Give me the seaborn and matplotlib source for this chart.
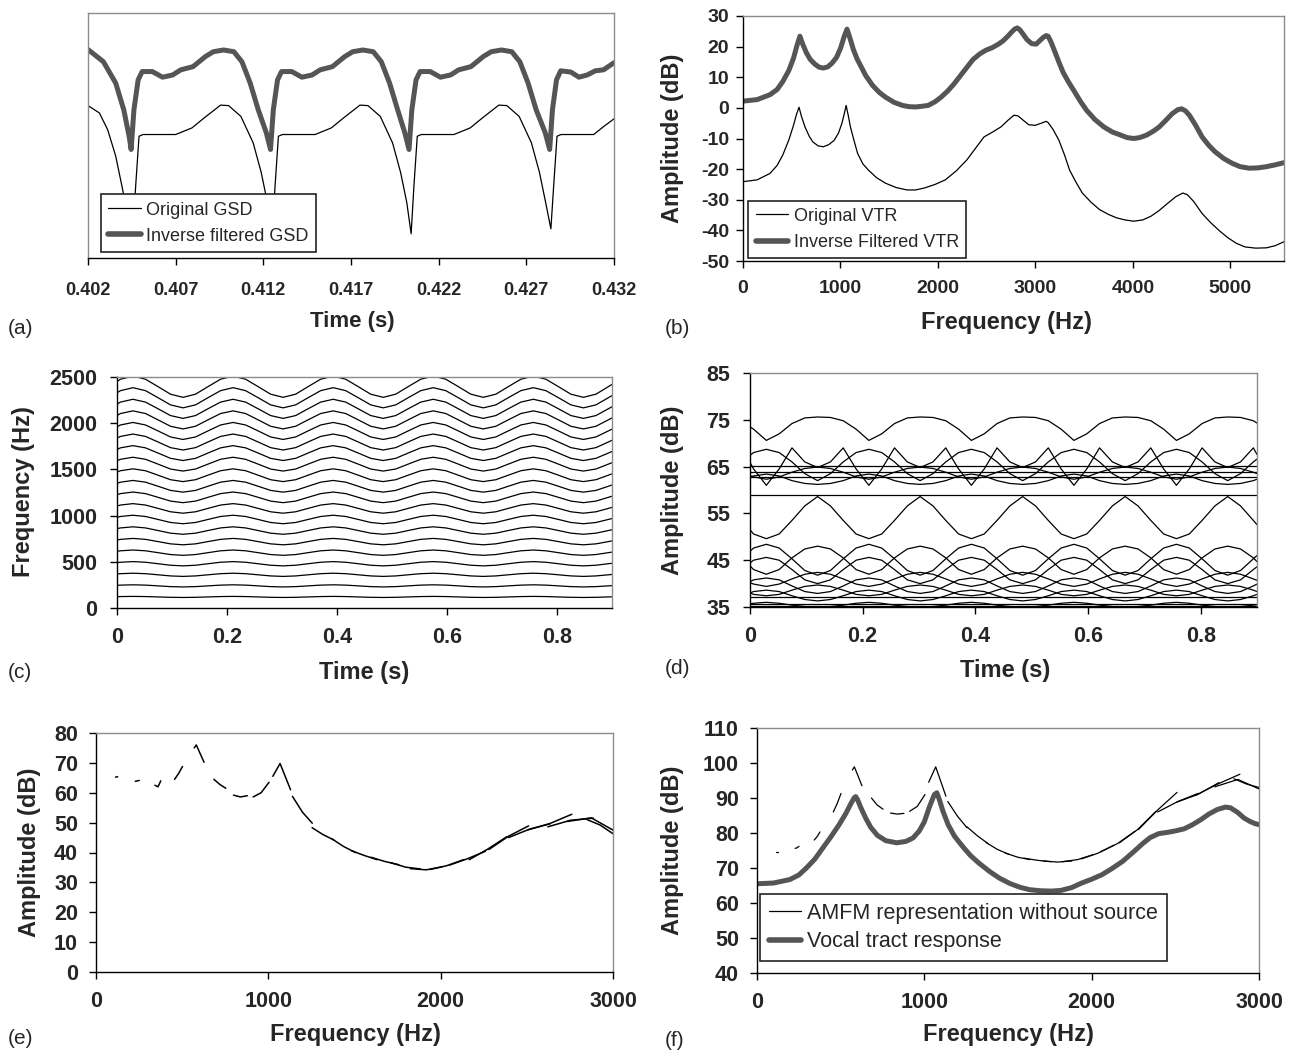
import matplotlib
matplotlib.use("Agg")
import matplotlib.pyplot as plt
from matplotlib.lines import Line2D
import pandas as pd
import seaborn as sns

sns.set_style("white")
plt.rcParams["font.family"] = ["Liberation Sans", "DejaVu Sans"]
plt.rcParams["axes.unicode_minus"] = False

THICK = "#555555"
FRAME = "#8c8c8c"

# ---------------- (a) glottal source derivative (arbitrary units, 0-100)
gsd_orig_t = [0.40200, 0.40265, 0.40312, 0.40358, 0.40393, 0.40425, 0.40456,
              0.40472, 0.40491, 0.40514, 0.40700, 0.40793, 0.40863, 0.40956, 0.41002, 0.41072, 0.41142, 0.41188, 0.41223, 0.41251,
              0.41267, 0.41286, 0.41309, 0.41495, 0.41588, 0.41658, 0.41751, 0.41797, 0.41867, 0.41937, 0.41983, 0.42018, 0.42043,
              0.42059, 0.42078, 0.42101, 0.42287, 0.42380, 0.42450, 0.42543, 0.42589, 0.42659, 0.42729, 0.42775, 0.42810, 0.42840,
              0.42856, 0.42875, 0.42898, 0.43084, 0.43140, 0.43200]
gsd_orig = [62.2, 59.2, 52.4, 41.6, 29.5, 18.0, 10.0,
            29.5, 49.7, 50.4, 50.4, 53.1, 57.2, 62.4, 62.2, 57.8, 47.0, 34.9, 22.7, 10.0,
            29.5, 49.7, 50.4, 50.4, 53.1, 57.2, 62.4, 62.2, 57.8, 47.0, 34.9, 22.7, 9.9,
            29.5, 49.7, 50.4, 50.4, 53.1, 57.2, 62.4, 62.2, 57.8, 47.0, 34.9, 22.7, 11.9,
            29.5, 49.7, 50.4, 50.4, 53.6, 56.8]
gsd_inv_t = [0.40200, 0.40288, 0.40358, 0.40404, 0.40435, 0.40446,
             0.40462, 0.40486, 0.40509, 0.40567, 0.40625, 0.40683, 0.40729, 0.40799, 0.40869, 0.40915, 0.40973,
             0.41032, 0.41078, 0.41125, 0.41171, 0.41217, 0.41241,
             0.41257, 0.41281, 0.41304, 0.41362, 0.41420, 0.41478, 0.41524, 0.41594, 0.41664, 0.41710, 0.41768,
             0.41827, 0.41873, 0.41920, 0.41966, 0.42007, 0.42031,
             0.42047, 0.42071, 0.42094, 0.42152, 0.42210, 0.42268, 0.42314, 0.42384, 0.42454, 0.42500, 0.42558,
             0.42617, 0.42663, 0.42710, 0.42756, 0.42808, 0.42833,
             0.42849, 0.42872, 0.42896, 0.42954, 0.43000, 0.43047, 0.43093, 0.43140, 0.43200]
gsd_inv = [85.1, 80.1, 71.4, 60.5, 49.5, 44.3,
           60.5, 72.7, 76.1, 76.1, 73.8, 74.7, 76.8, 78.1, 82.2, 84.2, 84.9, 84.2, 80.1, 71.4, 60.5, 51.1, 44.3,
           60.5, 72.7, 76.1, 76.1, 73.8, 74.7, 76.8, 78.1, 82.2, 84.2, 84.9, 84.2, 80.1, 71.4, 60.5, 51.1, 44.3,
           60.5, 72.7, 76.1, 76.1, 73.8, 74.7, 76.8, 78.1, 82.2, 84.2, 84.9, 84.2, 80.1, 71.4, 60.5, 51.1, 44.3,
           60.5, 72.7, 76.4, 75.9, 73.8, 74.7, 76.4, 76.8, 79.7]
a_ticks = [0.402, 0.407, 0.412, 0.417, 0.422, 0.427, 0.432]
a_tick_labels = ["0.402", "0.407", "0.412", "0.417", "0.422", "0.427", "0.432"]

# ---------------- (b) vocal tract responses
vtr_orig_f = [0, 145, 277, 350, 408, 470, 518, 550, 575, 600, 637, 680, 716, 770, 825, 880, 935, 980, 1014,
              1040, 1058, 1080, 1102, 1140, 1176, 1230, 1286, 1370, 1462, 1570, 1681, 1770, 1857, 1970, 2076,
              2190, 2296, 2390, 2472, 2560, 2647, 2720, 2779, 2820, 2866, 2930, 2998, 3060, 3110, 3130, 3180,
              3240, 3300, 3350, 3420, 3481, 3570, 3657, 3750, 3832, 3920, 4008, 4100, 4184, 4270, 4359, 4440,
              4513, 4560, 4622, 4710, 4798, 4890, 4974, 5060, 5149, 5260, 5369, 5460, 5550]
vtr_orig = [-24.1, -23.5, -21.4, -18.8, -15.4, -10.5, -5.7, -2.0, 0.2, -2.8, -6.3, -9.3, -11.1, -12.4, -12.7,
            -12.0, -10.6, -8.2, -5.1, -1.8, 0.8, -2.5, -6.2, -10.8, -14.9, -18.3, -20.3, -22.8, -24.6, -26.0,
            -26.8, -26.8, -26.2, -25.0, -23.5, -20.5, -17.0, -13.0, -9.5, -7.9, -6.2, -4.0, -2.4, -2.6, -3.8,
            -5.5, -5.7, -5.0, -4.4, -4.8, -7.0, -10.5, -15.5, -20.3, -24.5, -27.8, -30.8, -33.2, -34.8, -35.9,
            -36.6, -37.0, -36.6, -35.4, -33.5, -31.1, -29.0, -27.8, -28.4, -30.5, -34.5, -37.5, -40.2, -42.4,
            -44.2, -45.4, -45.8, -45.7, -45.0, -43.7]
vtr_inv_f = [0, 145, 277, 350, 408, 470, 518, 555, 584, 610, 650, 690, 737, 780, 825, 870, 913, 960, 1001,
             1040, 1067, 1095, 1133, 1170, 1198, 1260, 1330, 1400, 1462, 1550, 1637, 1700, 1769, 1830, 1900,
             1970, 2032, 2100, 2164, 2230, 2296, 2360, 2428, 2490, 2559, 2620, 2669, 2720, 2757, 2790, 2814,
             2840, 2875, 2910, 2960, 3007, 3040, 3080, 3110, 3130, 3160, 3196, 3240, 3284, 3340, 3393, 3460,
             3525, 3610, 3701, 3790, 3876, 3940, 4008, 4070, 4140, 4210, 4271, 4340, 4403, 4460, 4500, 4540,
             4579, 4640, 4710, 4780, 4842, 4930, 5018, 5100, 5193, 5280, 5369, 5460, 5550]
vtr_inv = [2.2, 2.7, 4.3, 6.0, 8.6, 12.2, 16.2, 20.5, 23.4, 21.0, 18.0, 15.8, 14.3, 13.3, 13.0, 13.4, 14.6,
           16.5, 19.5, 23.5, 25.7, 23.0, 19.0, 16.0, 14.3, 10.5, 7.3, 5.0, 3.5, 1.8, 0.8, 0.4, 0.3, 0.5, 0.8,
           2.0, 3.5, 5.5, 7.8, 10.5, 13.2, 15.8, 17.6, 18.8, 19.7, 20.8, 21.9, 23.5, 24.8, 25.8, 26.1, 25.5,
           24.0, 22.4, 21.0, 20.8, 21.8, 23.0, 23.6, 23.4, 21.5, 18.6, 15.0, 11.6, 8.4, 5.7, 2.2, -0.8, -3.8,
           -6.2, -7.9, -8.9, -9.7, -10.0, -9.7, -8.9, -7.6, -6.2, -4.0, -1.9, -0.6, -0.3, -1.0, -2.4, -5.5,
           -9.5, -12.3, -14.3, -16.5, -18.1, -19.2, -19.7, -19.6, -19.2, -18.6, -17.9]

# ---------------- (c)/(d) harmonic tracks over time
track_t = [0.0, 0.0063, 0.029, 0.0518, 0.0745, 0.0973, 0.12, 0.1428, 0.1655, 0.1883,
           0.211, 0.2338, 0.2565, 0.2793, 0.302, 0.3248, 0.3475, 0.3703, 0.393, 0.4158,
           0.4385, 0.4613, 0.484, 0.5068, 0.5295, 0.5523, 0.575, 0.5978, 0.6205, 0.6433,
           0.666, 0.6888, 0.7115, 0.7343, 0.757, 0.7798, 0.8025, 0.8253, 0.848, 0.8708,
           0.8935, 0.9]
# fundamental; harmonic k sits at k times it (k=8 peaks at 1000 Hz)
f0_track = [122.6, 123.8,
            125.5, 123.8, 119.8, 115.7, 114.0, 115.7, 119.8, 123.8,
            125.5, 123.8, 119.8, 115.7, 114.0, 115.7, 119.8, 123.8,
            125.5, 123.8, 119.8, 115.7, 114.0, 115.7, 119.8, 123.8,
            125.5, 123.8, 119.8, 115.7, 114.0, 115.7, 119.8, 123.8,
            125.5, 123.8, 119.8, 115.7, 114.0, 115.7, 119.8, 121.0]
harmonics = list(range(1, 21))

amp_top = [73.5, 73.0,
           70.6, 72.0, 74.2, 75.4, 75.6, 75.5, 74.8, 73.0, 70.6, 72.0, 74.2, 75.4, 75.6, 75.5, 74.8, 73.0,
           70.6, 72.0, 74.2, 75.4, 75.6, 75.5, 74.8, 73.0, 70.6, 72.0, 74.2, 75.4, 75.6, 75.5, 74.8, 73.0,
           70.6, 72.0, 74.2, 75.4, 75.6, 75.5, 74.8, 74.3]
amp_double = [65.9, 64.5,
              61.0, 64.5, 69.0, 66.0, 64.8, 66.0, 69.0, 64.5, 61.0, 64.5, 69.0, 66.0, 64.8, 66.0, 69.0, 64.5,
              61.0, 64.5, 69.0, 66.0, 64.8, 66.0, 69.0, 64.5, 61.0, 64.5, 69.0, 66.0, 64.8, 66.0, 69.0, 64.5,
              61.0, 64.5, 69.0, 66.0, 64.8, 66.0, 69.0, 67.6]
amp_dome = [67.4, 68.0,
            68.7, 68.0, 66.0, 63.5, 62.0, 63.5, 66.0, 68.0, 68.7, 68.0, 66.0, 63.5, 62.0, 63.5, 66.0, 68.0,
            68.7, 68.0, 66.0, 63.5, 62.0, 63.5, 66.0, 68.0, 68.7, 68.0, 66.0, 63.5, 62.0, 63.5, 66.0, 68.0,
            68.7, 68.0, 66.0, 63.5, 62.0, 63.5, 66.0, 66.6]
amp_arc = [51.5, 50.6,
           49.6, 50.6, 53.5, 56.6, 58.6, 56.6, 53.5, 50.6, 49.6, 50.6, 53.5, 56.6, 58.6, 56.6, 53.5, 50.6,
           49.6, 50.6, 53.5, 56.6, 58.6, 56.6, 53.5, 50.6, 49.6, 50.6, 53.5, 56.6, 58.6, 56.6, 53.5, 50.6,
           49.6, 50.6, 53.5, 56.6, 58.6, 56.6, 53.5, 52.6]
amp_mid1 = [63.1, 62.8,
            62.3, 62.8, 63.8, 64.6, 64.9, 64.6, 63.8, 62.8, 62.3, 62.8, 63.8, 64.6, 64.9, 64.6, 63.8, 62.8,
            62.3, 62.8, 63.8, 64.6, 64.9, 64.6, 63.8, 62.8, 62.3, 62.8, 63.8, 64.6, 64.9, 64.6, 63.8, 62.8,
            62.3, 62.8, 63.8, 64.6, 64.9, 64.6, 63.8, 63.5]
amp_mid2 = [62.7, 63.0,
            63.4, 63.0, 62.0, 61.4, 61.2, 61.4, 62.0, 63.0, 63.4, 63.0, 62.0, 61.4, 61.2, 61.4, 62.0, 63.0,
            63.4, 63.0, 62.0, 61.4, 61.2, 61.4, 62.0, 63.0, 63.4, 63.0, 62.0, 61.4, 61.2, 61.4, 62.0, 63.0,
            63.4, 63.0, 62.0, 61.4, 61.2, 61.4, 62.0, 62.3]
amp_low1 = [46.9, 47.6,
            48.4, 47.6, 45.3, 42.8, 41.8, 42.8, 45.3, 47.6, 48.4, 47.6, 45.3, 42.8, 41.8, 42.8, 45.3, 47.6,
            48.4, 47.6, 45.3, 42.8, 41.8, 42.8, 45.3, 47.6, 48.4, 47.6, 45.3, 42.8, 41.8, 42.8, 45.3, 47.6,
            48.4, 47.6, 45.3, 42.8, 41.8, 42.8, 45.3, 46.0]
amp_low2 = [43.8, 43.0,
            42.0, 43.0, 45.5, 47.4, 48.0, 47.4, 45.5, 43.0, 42.0, 43.0, 45.5, 47.4, 48.0, 47.4, 45.5, 43.0,
            42.0, 43.0, 45.5, 47.4, 48.0, 47.4, 45.5, 43.0, 42.0, 43.0, 45.5, 47.4, 48.0, 47.4, 45.5, 43.0,
            42.0, 43.0, 45.5, 47.4, 48.0, 47.4, 45.5, 44.7]
amp_low3 = [44.4, 45.0,
            45.6, 45.0, 43.0, 40.8, 40.0, 40.8, 43.0, 45.0, 45.6, 45.0, 43.0, 40.8, 40.0, 40.8, 43.0, 45.0,
            45.6, 45.0, 43.0, 40.8, 40.0, 40.8, 43.0, 45.0, 45.6, 45.0, 43.0, 40.8, 40.0, 40.8, 43.0, 45.0,
            45.6, 45.0, 43.0, 40.8, 40.0, 40.8, 43.0, 43.6]
amp_low4 = [40.2, 39.9,
            39.4, 39.9, 41.0, 42.0, 42.4, 42.0, 41.0, 39.9, 39.4, 39.9, 41.0, 42.0, 42.4, 42.0, 41.0, 39.9,
            39.4, 39.9, 41.0, 42.0, 42.4, 42.0, 41.0, 39.9, 39.4, 39.9, 41.0, 42.0, 42.4, 42.0, 41.0, 39.9,
            39.4, 39.9, 41.0, 42.0, 42.4, 42.0, 41.0, 40.7]
amp_low5 = [40.4, 40.8,
            41.2, 40.8, 39.5, 38.3, 37.9, 38.3, 39.5, 40.8, 41.2, 40.8, 39.5, 38.3, 37.9, 38.3, 39.5, 40.8,
            41.2, 40.8, 39.5, 38.3, 37.9, 38.3, 39.5, 40.8, 41.2, 40.8, 39.5, 38.3, 37.9, 38.3, 39.5, 40.8,
            41.2, 40.8, 39.5, 38.3, 37.9, 38.3, 39.5, 39.9]
amp_low6 = [38.0, 37.7,
            37.4, 37.7, 38.6, 39.4, 39.7, 39.4, 38.6, 37.7, 37.4, 37.7, 38.6, 39.4, 39.7, 39.4, 38.6, 37.7,
            37.4, 37.7, 38.6, 39.4, 39.7, 39.4, 38.6, 37.7, 37.4, 37.7, 38.6, 39.4, 39.7, 39.4, 38.6, 37.7,
            37.4, 37.7, 38.6, 39.4, 39.7, 39.4, 38.6, 38.3]
amp_low7 = [38.0, 38.3,
            38.6, 38.3, 37.4, 36.6, 36.3, 36.6, 37.4, 38.3, 38.6, 38.3, 37.4, 36.6, 36.3, 36.6, 37.4, 38.3,
            38.6, 38.3, 37.4, 36.6, 36.3, 36.6, 37.4, 38.3, 38.6, 38.3, 37.4, 36.6, 36.3, 36.6, 37.4, 38.3,
            38.6, 38.3, 37.4, 36.6, 36.3, 36.6, 37.4, 37.7]
amp_low8 = [35.7, 35.8,
            36.0, 35.8, 35.4, 35.1, 35.0, 35.1, 35.4, 35.8, 36.0, 35.8, 35.4, 35.1, 35.0, 35.1, 35.4, 35.8,
            36.0, 35.8, 35.4, 35.1, 35.0, 35.1, 35.4, 35.8, 36.0, 35.8, 35.4, 35.1, 35.0, 35.1, 35.4, 35.8,
            36.0, 35.8, 35.4, 35.1, 35.0, 35.1, 35.4, 35.5]
amp_flat_levels = [65.1, 63.9, 62.8, 58.9, 37.2, 35.6, 35.3]
cd_ticks = [0, 0.2, 0.4, 0.6, 0.8]
cd_tick_labels = ["0", "0.2", "0.4", "0.6", "0.8"]

# ---------------- (e)/(f) per-harmonic sweeps (start, middle, end of each vibrato sweep)
seg_f_lo = [114, 228, 342, 456, 570, 684, 798, 912, 1026, 1140, 1254, 1368, 1482,
            1596, 1710, 1824, 1938, 2052, 2166, 2280, 2394, 2508, 2622, 2736, 2850]
seg_f_mid = [120, 240, 360, 480, 582, 718, 838, 958, 1068, 1198, 1317, 1437, 1557,
             1676, 1796, 1916, 2036, 2155, 2275, 2395, 2515, 2634, 2754, 2874, 2925]
seg_f_hi = [125.5, 251, 376, 502, 627, 753, 878, 1004, 1129, 1255, 1380, 1506, 1631,
            1757, 1882, 2008, 2133, 2259, 2384, 2510, 2635, 2761, 2886, 3000, 3000]
e_amp_lo = [65.2, 63.8, 62.5, 64.5, 75.0, 64.5, 59.2, 58.6, 65.5, 58.8, 48.3, 44.6, 40.6,
            38.4, 36.6, 34.6, 34.3, 35.8, 37.6, 41.0, 45.0, 47.6, 48.6, 50.4, 51.0]
e_amp_mid = [65.4, 64.0, 62.0, 66.5, 76.0, 62.8, 58.6, 60.0, 69.8, 53.5, 46.0, 42.0, 39.0,
             37.0, 35.1, 34.2, 35.6, 37.9, 41.2, 45.5, 47.8, 49.7, 50.8, 51.6, 49.2]
e_amp_hi = [65.3, 64.1, 64.0, 68.8, 70.2, 61.5, 59.0, 63.5, 61.0, 49.8, 44.2, 40.0, 37.6,
            35.9, 34.5, 35.2, 37.6, 40.4, 45.3, 48.9, 49.6, 52.8, 51.5, 47.5, 46.3]
f_amp_lo = [74.5, 75.6, 78.0, 86.0, 98.0, 90.0, 85.7, 86.2, 94.5, 89.0, 81.8, 77.3, 74.3,
            72.8, 72.0, 71.8, 72.6, 74.6, 77.2, 81.0, 86.0, 88.8, 90.8, 93.2, 95.5]
f_amp_mid = [74.5, 75.8, 79.0, 88.5, 98.9, 88.0, 85.4, 87.6, 98.9, 84.8, 79.2, 75.3, 73.1,
             72.2, 71.7, 72.4, 74.2, 77.0, 81.0, 86.6, 89.0, 91.0, 94.0, 95.3, 94.0]
f_amp_hi = [74.5, 76.2, 80.3, 91.3, 93.5, 86.8, 85.6, 91.0, 90.5, 81.5, 77.0, 73.9, 72.4,
            71.8, 72.0, 73.8, 76.5, 80.5, 86.2, 91.6, 91.3, 94.4, 96.8, 92.6, 93.0]
vt_freq = [0, 98, 196, 250, 295, 345, 393, 440, 491, 530, 560, 580, 590, 600, 620, 650, 680, 720, 770,
           835, 890, 933, 970, 1000, 1030, 1060, 1075, 1090, 1110, 1142, 1180, 1228, 1275, 1326, 1390,
           1449, 1510, 1571, 1630, 1694, 1760, 1817, 1880, 1940, 2000, 2062, 2120, 2185, 2250, 2308,
           2350, 2400, 2455, 2500, 2553, 2600, 2652, 2700, 2750, 2799, 2830, 2872, 2910, 2946, 2975, 3000]
vt_amp = [65.5, 65.7, 66.7, 68.0, 70.0, 72.5, 75.7, 78.8, 82.4, 85.5, 88.3, 90.0, 90.4, 89.6, 87.3,
          84.2, 81.6, 79.3, 77.8, 77.2, 77.6, 78.6, 80.6, 83.2, 87.4, 91.0, 91.5, 89.5, 86.4, 82.4, 79.1,
          76.2, 73.6, 71.4, 69.0, 67.1, 65.6, 64.5, 63.8, 63.5, 63.4, 63.6, 64.4, 65.7, 66.8, 68.1, 69.8,
          71.9, 74.6, 77.1, 78.7, 79.8, 80.2, 80.6, 81.2, 82.3, 83.8, 85.4, 86.7, 87.4, 87.2, 85.9, 84.3,
          83.3, 82.7, 82.4]

W, H = 1294, 1052
fig = plt.figure(figsize=(W / 100, H / 100), dpi=100)


def panel(l, t, r, b):
    ax = fig.add_axes([l / W, 1 - b / H, (r - l) / W, (b - t) / H])
    ax.box = (l, t, r, b)
    return ax


def dress(ax, size, left=True, xpad=8, ypad=6):
    for side in ("top", "right"):
        ax.spines[side].set_color(FRAME)
    ax.spines["left"].set_color("black" if left else FRAME)
    ax.spines["bottom"].set_color("black")
    for sp in ax.spines.values():
        sp.set_linewidth(1.0)
    ax.tick_params(axis="x", bottom=True, direction="out", length=5, width=1,
                   color="black", labelsize=size, pad=xpad)
    ax.tick_params(axis="y", left=left, labelleft=left, direction="out", length=5,
                   width=1, color="black", labelsize=size, pad=ypad)
    plt.setp(ax.get_xticklabels() + ax.get_yticklabels(), fontweight="bold")


def put_label(ax, text, x, y, size, vertical=False):
    l, t, r, b = ax.box
    if vertical:
        ax.set_ylabel(text, fontsize=size, fontweight="bold", va="center")
        ax.yaxis.set_label_coords((x - l) / (r - l), (b - y) / (b - t))
    else:
        ax.set_xlabel(text, fontsize=size, fontweight="bold", va="center")
        ax.xaxis.set_label_coords((x - l) / (r - l), (b - y) / (b - t))


def letter(text, x, y):
    fig.text(x / W, 1 - y / H, text, fontsize=15, ha="left", va="center")


def long_table(tracks, xs):
    rows = []
    for i, vals in enumerate(tracks):
        for xv, yv in zip(xs, vals):
            rows.append((i, xv, yv))
    return pd.DataFrame(rows, columns=["track", "x", "y"])


def sweep_table(amp_lo, amp_mid, amp_hi):
    rows = []
    for i in range(len(seg_f_lo)):
        rows.append((i, seg_f_lo[i], amp_lo[i]))
        rows.append((i, seg_f_mid[i], amp_mid[i]))
        rows.append((i, seg_f_hi[i], amp_hi[i]))
    return pd.DataFrame(rows, columns=["track", "x", "y"])


def multi(ax, df, lw=0.9):
    sns.lineplot(data=df, x="x", y="y", units="track", estimator=None, color="black",
                 linewidth=lw, sort=False, legend=False, ax=ax)


def legend(ax, labels, size, anchor, hlen, spacing=0.35):
    handles = [Line2D([], [], color="black", lw=0.9), Line2D([], [], color=THICK, lw=4)]
    lg = ax.legend(handles, labels, loc="lower left", bbox_to_anchor=anchor, borderaxespad=0,
                   fontsize=size, frameon=True, fancybox=False, framealpha=1, edgecolor="#222222",
                   handlelength=hlen, handletextpad=0.3, borderpad=0.4, labelspacing=spacing)
    lg.get_frame().set_linewidth(1.2)


# ---- (a)
ax = panel(88, 13, 614, 258)
sns.lineplot(x=gsd_orig_t, y=gsd_orig, color="black", linewidth=0.9, sort=False, ax=ax)
sns.lineplot(x=gsd_inv_t, y=gsd_inv, color=THICK, linewidth=3.6, sort=False, ax=ax)
ax.set_xlim(0.402, 0.432)
ax.set_ylim(0, 100)
ax.set_xticks(a_ticks, a_tick_labels)
ax.set_yticks([])
dress(ax, 13, left=False, xpad=12)
put_label(ax, "Time (s)", 352, 322, 16)
ax.set_ylabel("")
legend(ax, ["Original GSD", "Inverse filtered GSD"], 13, (0.025, 0.025), 1.8, spacing=0.5)
letter("(a)", 8, 328)

# ---- (b)
ax = panel(743, 16, 1284, 261)
sns.lineplot(x=vtr_orig_f, y=vtr_orig, color="black", linewidth=0.9, sort=False, ax=ax)
sns.lineplot(x=vtr_inv_f, y=vtr_inv, color=THICK, linewidth=3.6, sort=False, ax=ax)
ax.set_xlim(0, 5550)
ax.set_ylim(-50, 30)
ax.set_xticks([0, 1000, 2000, 3000, 4000, 5000], ["0", "1000", "2000", "3000", "4000", "5000"])
ax.set_yticks(range(-50, 31, 10), [str(v) for v in range(-50, 31, 10)])
dress(ax, 14, xpad=9, ypad=5)
put_label(ax, "Frequency (Hz)", 1006, 323, 17)
put_label(ax, "Amplitude (dB)", 673, 138, 17, vertical=True)
legend(ax, ["Original VTR", "Inverse Filtered VTR"], 13, (0.01, 0.012), 1.8, spacing=0.5)
letter("(b)", 665, 328)

# ---- (c)
ax = panel(117, 377, 612, 608)
rows_c = []
for k in harmonics:
    rows_c.append([k * f for f in f0_track])
multi(ax, long_table(rows_c, track_t))
ax.set_xlim(0, 0.9)
ax.set_ylim(0, 2500)
ax.set_xticks(cd_ticks, cd_tick_labels)
ax.set_yticks(range(0, 2501, 500), [str(v) for v in range(0, 2501, 500)])
dress(ax, 15.5, xpad=9, ypad=9)
put_label(ax, "Time (s)", 364, 672, 17)
put_label(ax, "Frequency (Hz)", 24, 492, 17, vertical=True)
letter("(c)", 8, 672)

# ---- (d)
ax = panel(750, 373, 1257, 607)
d_tracks = [amp_top, amp_double, amp_dome, amp_arc, amp_mid1, amp_mid2, amp_low1, amp_low2,
            amp_low3, amp_low4, amp_low5, amp_low6, amp_low7, amp_low8]
multi(ax, long_table(d_tracks, track_t))
flat = long_table([[v, v] for v in amp_flat_levels], [track_t[0], track_t[-1]])
multi(ax, flat)
ax.set_xlim(0, 0.9)
ax.set_ylim(35, 85)
ax.set_xticks(cd_ticks, cd_tick_labels)
ax.set_yticks(range(35, 86, 10), [str(v) for v in range(35, 86, 10)])
dress(ax, 15.5, xpad=9, ypad=9)
put_label(ax, "Time (s)", 1005, 670, 17)
put_label(ax, "Amplitude (dB)", 673, 490, 17, vertical=True)
letter("(d)", 665, 668)

# ---- (e)
ax = panel(96, 733, 613, 972)
multi(ax, sweep_table(e_amp_lo, e_amp_mid, e_amp_hi), lw=1.1)
ax.set_xlim(0, 3000)
ax.set_ylim(0, 80)
ax.set_xticks([0, 1000, 2000, 3000], ["0", "1000", "2000", "3000"])
ax.set_yticks(range(0, 81, 10), [str(v) for v in range(0, 81, 10)])
dress(ax, 15.5, xpad=9, ypad=8)
put_label(ax, "Frequency (Hz)", 355, 1034, 17)
put_label(ax, "Amplitude (dB)", 30, 852, 17, vertical=True)
letter("(e)", 8, 1038)

# ---- (f)
ax = panel(757, 728, 1259, 973)
multi(ax, sweep_table(f_amp_lo, f_amp_mid, f_amp_hi), lw=0.9)
sns.lineplot(x=vt_freq, y=vt_amp, color=THICK, linewidth=3.6, sort=False, ax=ax)
ax.set_xlim(0, 3000)
ax.set_ylim(40, 110)
ax.set_xticks([0, 1000, 2000, 3000], ["0", "1000", "2000", "3000"])
ax.set_yticks(range(40, 111, 10), [str(v) for v in range(40, 111, 10)])
dress(ax, 15.5, xpad=9, ypad=8)
put_label(ax, "Frequency (Hz)", 1008, 1034, 17)
put_label(ax, "Amplitude (dB)", 673, 850, 17, vertical=True)
legend(ax, ["AMFM representation without source", "Vocal tract response"], 15.5, (0.006, 0.05), 1.5)
letter("(f)", 665, 1040)

fig.savefig("out.png", dpi=100)
